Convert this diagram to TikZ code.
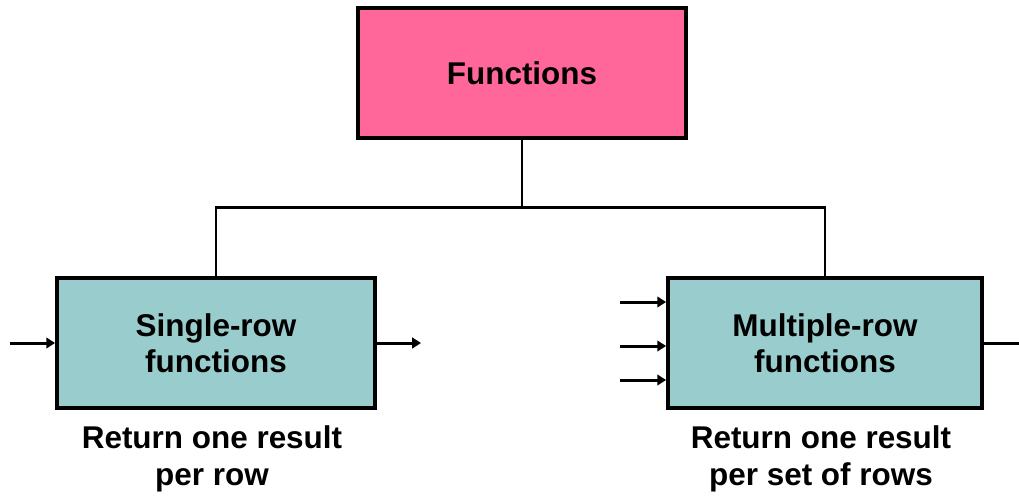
\documentclass[tikz,border=0pt]{standalone}
\usepackage{fontspec}
\setmainfont{Liberation Sans}
\usepackage{xcolor}
\usetikzlibrary{positioning,calc,arrows.meta}

\definecolor{funcpink}{HTML}{FF6699}
\definecolor{rowteal}{HTML}{99CCCC}

\tikzset{
    fbox/.style={draw=black, line width=2.2pt, minimum width=#1, minimum height=2.6cm, inner sep=0pt,
        align=center, font=\bfseries\fontsize{17.9}{20.5}\selectfont},
    link/.style={line width=1.7pt},
    feed/.style={line width=1.7pt, -{Triangle[length=5pt,width=6pt]}},
    note/.style={align=center, font=\bfseries\fontsize{17.9}{21}\selectfont}
}

\begin{document}
\begin{tikzpicture}[x=0.02cm, y=-0.02cm]
    \useasboundingbox (0,0) rectangle (1019,495);

    % Top box
    \node[fbox=6.56cm, fill=funcpink] (func) at (522,73) {Functions};

    % Single-row
    \node[fbox=6.36cm, fill=rowteal] (single) at (216,343) {Single-row\\functions};
    \node[note] (singlenote) at (212,459) {Return one result\\per row};

    % Multiple-row
    \node[fbox=6.28cm, fill=rowteal] (multi) at (825,343) {Multiple-row\\functions};
    \node[note] (multinote) at (821,459) {Return one result\\per set of rows};

    % Tree lines
    \coordinate (split) at (522,207);
    \draw[link] (func.south) -- (split);
    \draw[link] (single.north) |- (split) -| (multi.north);

    % Inputs and outputs
    \coordinate (sin) at (10,343);
    \coordinate (sout) at (421,343);
    \draw[feed] (sin) -- (single.west);
    \draw[feed] (single.east) -- (sout);
    \foreach \y/\n in {302/a, 346/b, 380/c} {
        \coordinate (min\n) at (620,\y);
        \draw[feed] (min\n) -- (min\n -| multi.west);
    }
    \coordinate (mout) at (1019,343);
    \draw[link] (multi.east) -- (mout);
\end{tikzpicture}
\end{document}
